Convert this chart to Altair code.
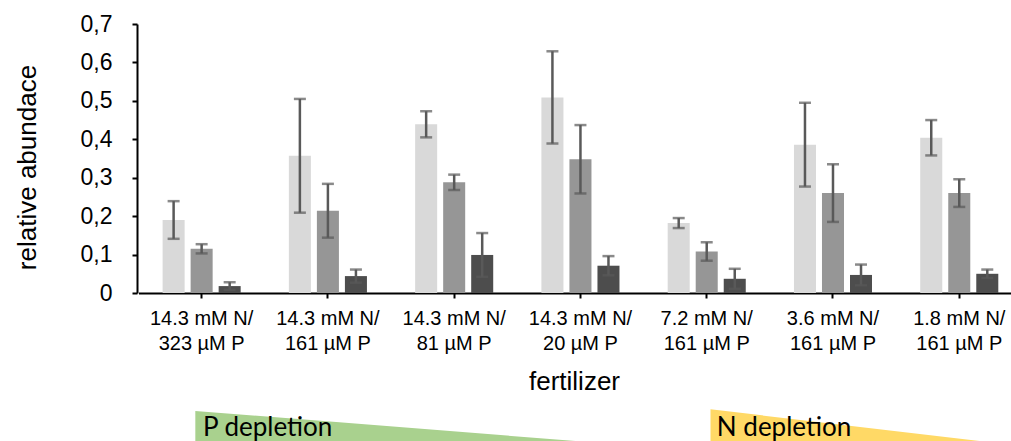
import altair as alt
import pandas as pd

# Fertilizer treatments (axis labels break at "|")
categories = [
    "14.3 mM N/|323 µM P",
    "14.3 mM N/|161 µM P",
    "14.3 mM N/|81 µM P",
    "14.3 mM N/|20 µM P",
    "7.2 mM N/|161 µM P",
    "3.6 mM N/|161 µM P",
    "1.8 mM N/|161 µM P",
]
series = ["group 1", "group 2", "group 3"]
series_colors = ["#d9d9d9", "#969696", "#4d4d4d"]

# Mean relative abundance and its error per treatment
light = [0.190, 0.357, 0.439, 0.509, 0.182, 0.386, 0.404]
light_err = [0.049, 0.148, 0.034, 0.120, 0.013, 0.109, 0.046]
medium = [0.115, 0.214, 0.288, 0.348, 0.108, 0.260, 0.260]
medium_err = [0.012, 0.070, 0.020, 0.089, 0.024, 0.075, 0.036]
dark = [0.018, 0.044, 0.099, 0.071, 0.037, 0.047, 0.050]
dark_err = [0.010, 0.017, 0.057, 0.025, 0.026, 0.027, 0.011]

# Depletion ramps under the axis (position in treatment units, ramp height 0..1)
ramp_name = ["P depletion", "P depletion", "N depletion", "N depletion"]
ramp_pos = [-0.05, 2.96, 4.03, 6.16]
ramp_level = [0.94, 0.0, 0.99, 0.0]
ramp_label_pos = [0.01, 4.08]
ramp_label_level = [0.17, 0.17]
ramp_label = ["P depletion", "N depletion"]

rows = []
for i, cat in enumerate(categories):
    for s, vals, errs in zip(series, [light, medium, dark], [light_err, medium_err, dark_err]):
        rows.append({
            "fertilizer": cat,
            "series": s,
            "value": vals[i],
            "lo": vals[i] - errs[i],
            "hi": vals[i] + errs[i],
        })
df = pd.DataFrame(rows)

ramps = pd.DataFrame({"ramp": ramp_name, "pos": ramp_pos, "level": ramp_level})
ramp_labels = pd.DataFrame({"label": ramp_label, "pos": ramp_label_pos, "level": ramp_label_level})

PLOT_W, PLOT_H = 874, 269
X_RANGE = [1.5, 885.4]
FONT = "Liberation Sans"

x_enc = alt.X(
    "fertilizer:N",
    sort=categories,
    scale=alt.Scale(range=X_RANGE, paddingInner=0, paddingOuter=0),
    axis=alt.Axis(
        title="fertilizer",
        labelAngle=0,
        labelExpr="split(datum.value, '|')",
        labelFont=FONT,
        titleFont=FONT,
        labelFontSize=20,
        labelLineHeight=25,
        labelPadding=10,
        titleFontSize=26,
        titlePadding=15,
        titleX=PLOT_W / 2,
    ),
)
xoff = alt.XOffset("series:N", sort=series,
                   scale=alt.Scale(paddingInner=0.214, paddingOuter=0.86))
y_scale = alt.Scale(domain=[0, 0.7], nice=False)
y_axis = alt.Axis(
    title="relative abundace",
    values=[0, 0.1, 0.2, 0.3, 0.4, 0.5, 0.6, 0.7],
    labelExpr="datum.value == 0 ? '0' : replace(format(datum.value, '.1f'), '.', ',')",
    labelFont=FONT,
    titleFont=FONT,
    labelFontSize=23,
    labelPadding=20,
    titleFontSize=26,
    titlePadding=40,
    titleY=143,
)

base = alt.Chart(df)
bars = base.mark_bar().encode(
    x=x_enc,
    xOffset=xoff,
    y=alt.Y("value:Q", scale=y_scale, axis=y_axis),
    color=alt.Color("series:N", scale=alt.Scale(domain=series, range=series_colors), legend=None),
)
err_color = "#595959"
whiskers = base.mark_rule(color=err_color, strokeWidth=2.5).encode(
    x=x_enc, xOffset=xoff,
    y=alt.Y("lo:Q", scale=y_scale, axis=y_axis), y2="hi:Q",
)
cap_hi = base.mark_tick(color=err_color, thickness=2.5, size=12).encode(
    x=x_enc, xOffset=xoff, y=alt.Y("hi:Q", scale=y_scale, axis=y_axis),
)
cap_lo = base.mark_tick(color=err_color, thickness=2.5, size=12).encode(
    x=x_enc, xOffset=xoff, y=alt.Y("lo:Q", scale=y_scale, axis=y_axis),
)
main = alt.layer(bars, whiskers, cap_hi, cap_lo)

# Ramps share a linear treatment scale aligned with the band centres
rx = alt.X("pos:Q", scale=alt.Scale(domain=[-0.5, 6.5], range=X_RANGE), axis=None)
ry = alt.Y("level:Q", scale=alt.Scale(domain=[0, 1], range=[417, 385]), axis=None)
ramp_base = alt.Chart(ramps)
p_ramp = ramp_base.transform_filter(alt.datum.ramp == "P depletion").mark_area(
    color="#a9d18e").encode(x=rx, y=ry, y2=alt.datum(0))
n_ramp = ramp_base.transform_filter(alt.datum.ramp == "N depletion").mark_area(
    color="#ffd966").encode(x=rx, y=ry, y2=alt.datum(0))
ramp_text = alt.Chart(ramp_labels).mark_text(
    align="left", baseline="alphabetic", font="Lato", fontSize=26, color="black"
).encode(x=rx, y=ry, text="label:N")
ramp_layer = alt.layer(p_ramp, n_ramp, ramp_text)

chart = (
    alt.layer(main, ramp_layer)
    .resolve_scale(x="independent", y="independent", color="independent")
    .properties(
        width=PLOT_W,
        height=PLOT_H,
        autosize=alt.AutoSizeParams(type="none"),
        padding={"left": 137, "top": 24, "right": 0, "bottom": 148},
    )
    .configure_view(stroke=None)
    .configure_axis(
        labelColor="black",
        titleColor="black",
        titleFontWeight="normal",
        domainColor="black",
        domainWidth=2,
        tickColor="black",
        tickWidth=2,
        tickSize=5,
        grid=False,
    )
)

chart.save("out.html", embed_options={"renderer": "svg", "actions": False})
